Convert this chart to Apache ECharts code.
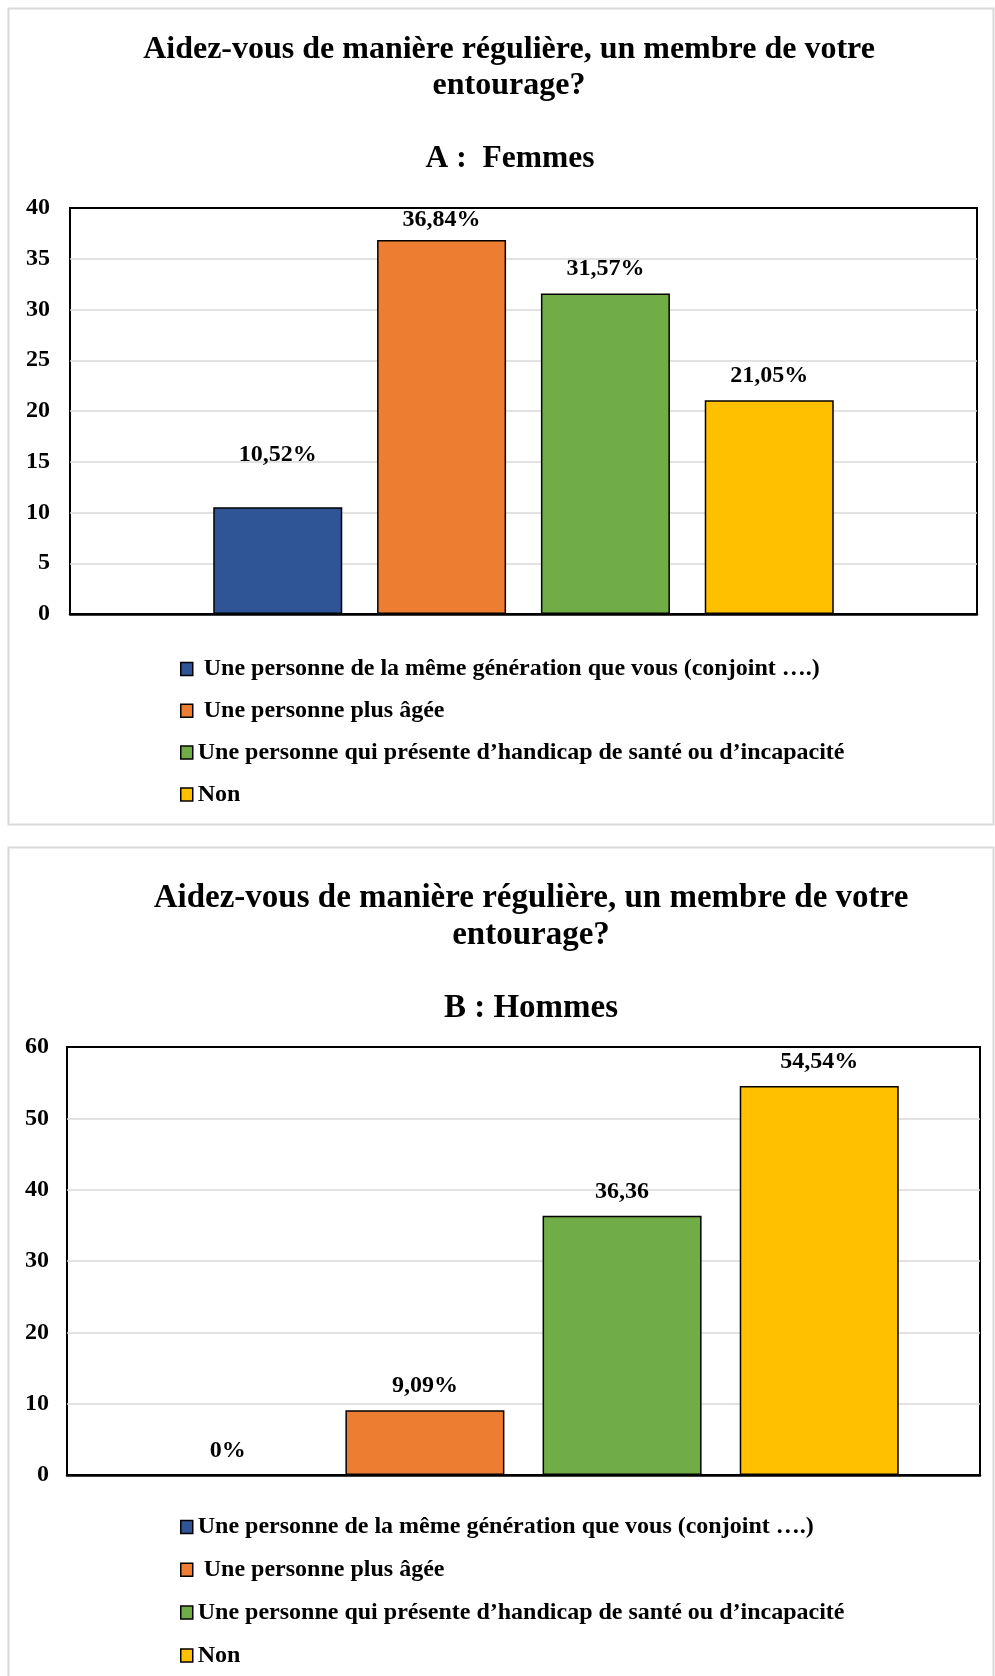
<!DOCTYPE html>
<html>
<head>
<meta charset="utf-8">
<script src="https://cdn.jsdelivr.net/npm/echarts@6/dist/echarts.min.js"></script>
<style>
html,body{margin:0;padding:0;background:#fff;}
#c{width:995px;height:1676px;}
</style>
</head>
<body>
<div id="c"></div>
<script>
// ---- data ----
const titleText = 'Aidez-vous de manière régulière, un membre de votre\nentourage?';
const subtitleA = 'A :  Femmes';
const subtitleB = 'B : Hommes';
const seriesNamesA = [' Une personne de la même génération que vous (conjoint ….)', ' Une personne plus âgée', 'Une personne qui présente d’handicap de santé ou d’incapacité', 'Non'];
const seriesNamesB = ['Une personne de la même génération que vous (conjoint ….)', ' Une personne plus âgée', 'Une personne qui présente d’handicap de santé ou d’incapacité', 'Non'];
const valuesA = [10.52, 36.84, 31.57, 21.05];
const valuesB = [0, 9.09, 36.36, 54.54];
const labelsA = ['10,52%', '36,84%', '31,57%', '21,05%'];
const labelsB = ['0%', '9,09%', '36,36', '54,54%'];
const category = ['Aide'];
const colors = ['#2F5597', '#ED7D31', '#70AD47', '#FFC000'];

const FONT = '"Liberation Serif", "Times New Roman", serif';
const labelDistA = [40, 8, 13, 13];
const labelDistB = [12, 12, 12, 12];

function makeSeries(names, values, labels, idx, barWidth, barGap, dists) {
  return names.map((n, i) => ({
    type: 'bar',
    name: n,
    xAxisIndex: idx,
    yAxisIndex: idx,
    data: [values[i]],
    barWidth: barWidth,
    barGap: barGap,
    itemStyle: { color: colors[i], borderColor: '#000', borderWidth: values[i] === 0 ? 0 : 1.5 },
    label: {
      show: true, position: 'top', distance: dists[i],
      formatter: () => labels[i],
      fontFamily: FONT, fontWeight: 'bold', fontSize: 24, color: '#000'
    },
    emphasis: { disabled: true },
    animation: false
  }));
}

const yLabel = { fontFamily: FONT, fontWeight: 'bold', fontSize: 24, color: '#000' };
const legendText = { fontFamily: FONT, fontWeight: 'bold', fontSize: 24, color: '#000', lineHeight: 24 };

const chart = echarts.init(document.getElementById('c'), null, { renderer: 'canvas' });
chart.setOption({
  backgroundColor: '#fff',
  animation: false,
  graphic: [
    { type: 'rect', shape: { x: 8.5, y: 8.5, width: 985, height: 816 }, style: { fill: 'none', stroke: '#d9d9d9', lineWidth: 2 }, silent: true, z: -10 },
    { type: 'rect', shape: { x: 8.5, y: 847.5, width: 985, height: 840 }, style: { fill: 'none', stroke: '#d9d9d9', lineWidth: 2 }, silent: true, z: -10 }
  ],
  title: [
    { text: titleText, left: 509, top: 32, textAlign: 'center', padding: 0,
      textStyle: { fontFamily: FONT, fontWeight: 'bold', fontSize: 32, lineHeight: 36, color: '#000' } },
    { text: subtitleA, left: 510, top: 142, textAlign: 'center', padding: 0,
      textStyle: { fontFamily: FONT, fontWeight: 'bold', fontSize: 31.5, lineHeight: 34, color: '#000' } },
    { text: titleText, left: 531, top: 880, textAlign: 'center', padding: 0,
      textStyle: { fontFamily: FONT, fontWeight: 'bold', fontSize: 33, lineHeight: 37, color: '#000' } },
    { text: subtitleB, left: 531, top: 991, textAlign: 'center', padding: 0,
      textStyle: { fontFamily: FONT, fontWeight: 'bold', fontSize: 33, lineHeight: 35, color: '#000' } }
  ],
  legend: [
    { data: seriesNamesA, orient: 'vertical', left: 180, top: 657, padding: 0, itemWidth: 12, itemHeight: 13, itemGap: 17.8,
      icon: 'rect', selectedMode: false, textStyle: legendText,
      itemStyle: { borderColor: '#000', borderWidth: 1.5 } },
    { data: seriesNamesB, orient: 'vertical', left: 180, top: 1515, padding: 0, itemWidth: 12, itemHeight: 13, itemGap: 18.8,
      icon: 'rect', selectedMode: false, textStyle: legendText,
      itemStyle: { borderColor: '#000', borderWidth: 1.5 } }
  ],
  grid: [
    { left: 70, top: 208, width: 907, height: 406, show: true, borderColor: '#000', borderWidth: 2, containLabel: false },
    { left: 67, top: 1047, width: 913, height: 428, show: true, borderColor: '#000', borderWidth: 2, containLabel: false }
  ],
  xAxis: [0, 1].map(i => ({
    type: 'category', gridIndex: i, data: category,
    axisLine: { show: true, lineStyle: { color: '#000', width: 2.5 } },
    axisTick: { show: false }, axisLabel: { show: false }, splitLine: { show: false }
  })),
  yAxis: [
    { type: 'value', gridIndex: 0, min: 0, max: 40, interval: 5,
      axisLine: { show: false }, axisTick: { show: false },
      axisLabel: Object.assign({ margin: 20 }, yLabel),
      splitLine: { show: true, showMinLine: false, showMaxLine: false, lineStyle: { color: '#d9d9d9', width: 1.5 } } },
    { type: 'value', gridIndex: 1, min: 0, max: 60, interval: 10,
      axisLine: { show: false }, axisTick: { show: false },
      axisLabel: Object.assign({ margin: 18 }, yLabel),
      splitLine: { show: true, showMinLine: false, showMaxLine: false, lineStyle: { color: '#d9d9d9', width: 1.5 } } }
  ],
  series: [].concat(
    makeSeries(seriesNamesA, valuesA, labelsA, 0, 129, '27%', labelDistA),
    makeSeries(seriesNamesB, valuesB, labelsB, 1, 159, '24%', labelDistB)
  )
});
</script>
</body>
</html>
